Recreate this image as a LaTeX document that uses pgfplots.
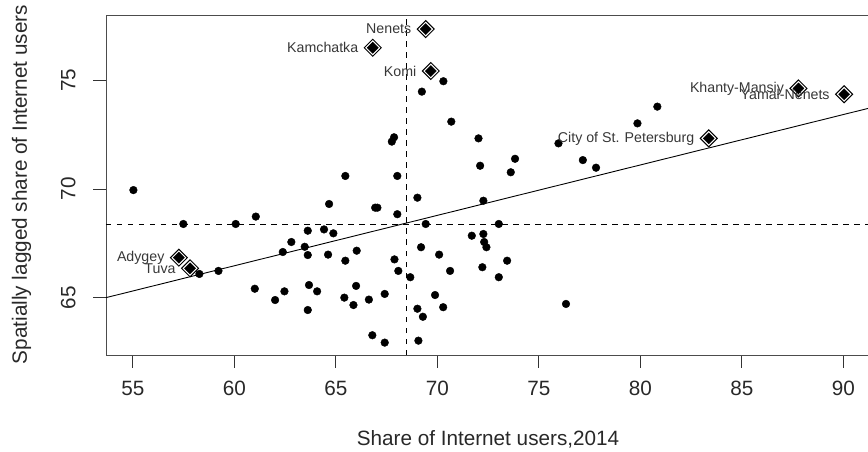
\documentclass[border=0pt]{standalone}
\usepackage{fontspec}
\setmainfont{Liberation Sans}
\usepackage{pgfplots}
\usepackage{pgfplotstable}
\pgfplotsset{compat=1.18}
\definecolor{txt}{RGB}{40,40,40}
\definecolor{lbl}{RGB}{55,55,55}

\pgfplotstableread{
x y
65.47 70.60
70.30 74.96
69.24 74.48
70.69 73.10
72.03 72.33
67.76 72.18
67.87 72.38
75.97 72.10
77.17 71.33
77.82 70.98
73.83 71.39
73.62 70.77
72.11 71.07
68.03 70.60
80.84 73.79
79.86 73.02
55.03 69.95
57.49 68.39
60.07 68.39
61.06 68.73
64.67 69.31
58.28 66.09
59.22 66.23
63.62 68.08
64.42 68.14
64.88 67.96
62.81 67.56
62.39 67.10
63.47 67.34
63.62 66.96
64.62 66.98
65.47 66.70
66.03 67.16
61.01 65.41
62.47 65.29
62.01 64.89
63.68 65.58
64.08 65.29
63.62 64.43
65.42 65.00
65.87 64.66
66.00 65.54
69.02 69.60
72.27 69.46
66.94 69.14
67.05 69.14
68.03 68.84
69.43 68.39
73.03 68.39
71.70 67.85
72.27 67.93
72.31 67.56
72.42 67.32
69.20 67.32
70.09 66.98
67.89 66.76
68.08 66.23
68.67 65.94
70.63 66.23
72.22 66.40
73.44 66.70
73.03 65.94
66.63 64.91
67.41 65.17
69.89 65.12
70.29 64.56
69.02 64.49
69.29 64.12
76.34 64.71
66.80 63.27
67.41 62.93
69.07 63.02
}\regular

\pgfplotstableread{
x y label
69.43 77.36 Nenets
66.82 76.50 Kamchatka
69.68 75.43 Komi
87.79 74.63 Khanty-Mansiy
90.04 74.36 Yamal-Nenets
83.37 72.33 {City of St. Petersburg}
57.27 66.84 Adygey
57.82 66.35 Tuva
}\influential

\begin{document}
\begin{tikzpicture}
\begin{axis}[
  at={(0,0)}, anchor=south west,
  scale only axis, width=765.7bp, height=339.4bp,
  xmin=53.68, xmax=91.4, ymin=62.36, ymax=77.98,
  xtick={55,60,65,70,75,80,85,90}, ytick={65,70,75},
  tick align=outside, xtick pos=left, ytick pos=left,
  major tick length=12.5bp,
  tick style={line width=0.9bp, color=black!80},
  axis line style={line width=0.9bp, color=black!70},
  /pgf/number format/assume math mode=true,
  tick label style={font=\fontsize{20.7bp}{24bp}\selectfont, text=txt},
  xticklabel style={anchor=base, yshift=-28bp},
  yticklabel style={xshift=-18bp, rotate=90, anchor=base},
]
\addplot[black, line width=0.9bp, dash pattern=on 5.5bp off 5.5bp] coordinates {(68.5,62.36) (68.5,77.98)};
\addplot[black, line width=0.9bp, dash pattern=on 5.5bp off 5.5bp] coordinates {(53.68,68.39) (91.4,68.39)};
\addplot[black, line width=0.9bp] coordinates {(53.68,65.0) (91.4,73.75)};
\addplot[only marks, mark=*, mark size=3.85bp, black] table[x=x,y=y] {\regular};
\addplot[only marks, mark=square, mark size=6.0bp, mark options={rotate=45, line width=1bp, black, fill=white},
  nodes near coords, point meta=explicit symbolic,
  every node near coord/.append style={anchor=east, xshift=-14bp, inner sep=0pt, text=lbl, font=\fontsize{14.2bp}{16bp}\selectfont}]
  table[x=x,y=y,meta=label] {\influential};
\addplot[only marks, mark=square*, mark size=3.9bp, mark options={rotate=45, black}] table[x=x,y=y] {\influential};
\end{axis}
\node[rotate=90, anchor=base, text=txt, font=\fontsize{20.7bp}{24bp}\selectfont] at (-79bp,170.5bp) {Spatially lagged share of Internet users};
\node[anchor=base, text=txt, font=\fontsize{20.7bp}{24bp}\selectfont] at (382bp,-90bp) {Share of Internet users,2014};
\pgfresetboundingbox
\useasboundingbox (-106bp,-97bp) rectangle (762bp,355bp);
\end{tikzpicture}
\end{document}
